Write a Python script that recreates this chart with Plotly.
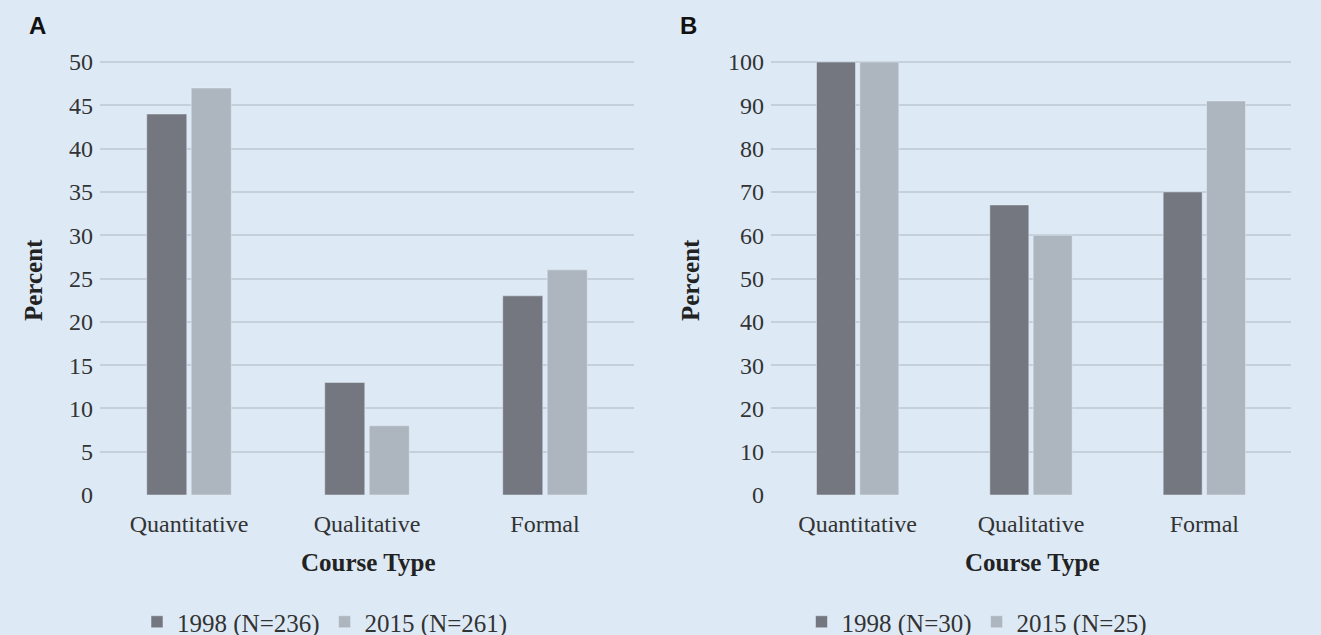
import plotly.graph_objects as go

categories = ["Quantitative", "Qualitative", "Formal"]
a_1998 = [44, 13, 23]
a_2015 = [47, 8, 26]
b_1998 = [100, 67, 70]
b_2015 = [100, 60, 91]
names_a = ["1998 (N=236)", "2015 (N=261)"]
names_b = ["1998 (N=30)", "2015 (N=25)"]
ticks_a = [0, 5, 10, 15, 20, 25, 30, 35, 40, 45, 50]
ticks_b = [0, 10, 20, 30, 40, 50, 60, 70, 80, 90, 100]

DARK = "#74777F"
LIGHT = "#ADB5BF"
BG = "#DDEAF6"
GRID = "#C5D0DB"
SERIF = "Liberation Serif, Times New Roman, serif"
W, H = 1321, 635

fig = go.Figure()
fig.add_trace(go.Bar(x=categories, y=a_1998, name=names_a[0], marker_color=DARK,
                     xaxis="x", yaxis="y", legend="legend"))
fig.add_trace(go.Bar(x=categories, y=a_2015, name=names_a[1], marker_color=LIGHT,
                     xaxis="x", yaxis="y", legend="legend"))
fig.add_trace(go.Bar(x=categories, y=b_1998, name=names_b[0], marker_color=DARK,
                     xaxis="x2", yaxis="y2", legend="legend2"))
fig.add_trace(go.Bar(x=categories, y=b_2015, name=names_b[1], marker_color=LIGHT,
                     xaxis="x2", yaxis="y2", legend="legend2"))

# small headroom so the top gridline is drawn
ydom = [1 - 495 / H, 1 - 60.3 / H]
common_x = dict(showgrid=False, zeroline=False, showline=False, ticks="",
                tickfont=dict(family=SERIF, size=24, color="#333333"),
                ticklabelstandoff=12, fixedrange=True, automargin=False)
common_y = dict(showgrid=True, gridcolor=GRID, gridwidth=2, zeroline=False,
                showline=False, ticks="", tickfont=dict(family=SERIF, size=24, color="#333333"),
                ticklabelstandoff=6, fixedrange=True, automargin=False)
legfont = dict(family=SERIF, size=25, color="#333333")

fig.update_layout(
    width=W, height=H,
    paper_bgcolor=BG, plot_bgcolor=BG,
    margin=dict(l=0, r=0, t=0, b=0, autoexpand=False),
    barmode="group", bargap=0.5, bargroupgap=0.1,
    xaxis=dict(domain=[100 / W, 634 / W], anchor="y", **common_x),
    yaxis=dict(domain=ydom, anchor="x", range=[0, 50.2], tickvals=ticks_a, **common_y),
    xaxis2=dict(domain=[771 / W, 1291 / W], anchor="y2", **common_x),
    yaxis2=dict(domain=ydom, anchor="x2", range=[0, 100.4], tickvals=ticks_b, **common_y),
    legend=dict(orientation="h", x=325 / W, xanchor="center", y=1 - 622 / H, yanchor="middle",
                font=legfont, bgcolor="rgba(0,0,0,0)", itemwidth=30, tracegroupgap=0),
    legend2=dict(orientation="h", x=977 / W, xanchor="center", y=1 - 622 / H, yanchor="middle",
                 font=legfont, bgcolor="rgba(0,0,0,0)", itemwidth=30, tracegroupgap=0),
    showlegend=True,
)

annots = [
    dict(text="<b>A</b>", x=37 / W, y=1 - 25 / H, font=dict(family="Liberation Sans, Arial", size=24, color="#111111")),
    dict(text="<b>B</b>", x=688 / W, y=1 - 25 / H, font=dict(family="Liberation Sans, Arial", size=24, color="#111111")),
    dict(text="<b>Percent</b>", x=33 / W, y=1 - 280 / H, textangle=-90,
         font=dict(family=SERIF, size=25, color="#222222")),
    dict(text="<b>Percent</b>", x=690 / W, y=1 - 280 / H, textangle=-90,
         font=dict(family=SERIF, size=25, color="#222222")),
    dict(text="<b>Course Type</b>", x=368 / W, y=1 - 562 / H,
         font=dict(family=SERIF, size=25, color="#222222")),
    dict(text="<b>Course Type</b>", x=1032 / W, y=1 - 562 / H,
         font=dict(family=SERIF, size=25, color="#222222")),
]
for a in annots:
    fig.add_annotation(xref="paper", yref="paper", showarrow=False,
                       xanchor="center", yanchor="middle", **a)

fig.write_html("out.html", config={"displayModeBar": False},
               post_script="document.body.style.margin='0';document.body.style.overflow='hidden';")
